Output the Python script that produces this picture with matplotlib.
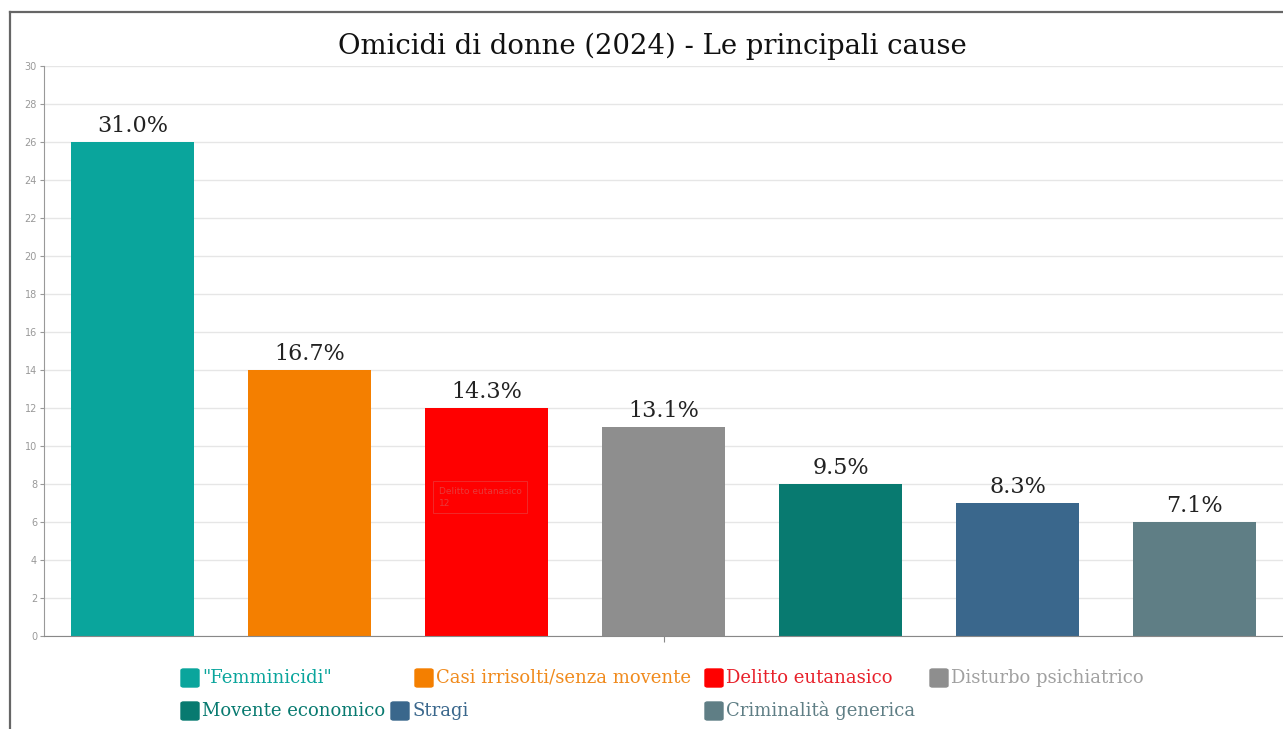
import matplotlib
matplotlib.use('Agg')
from matplotlib import pyplot as plt
from matplotlib.patches import Rectangle, FancyBboxPatch
from matplotlib.lines import Line2D

categories = ['"Femminicidi"', 'Casi irrisolti/senza movente', 'Delitto eutanasico',
              'Disturbo psichiatrico', 'Movente economico', 'Stragi', 'Criminalità generica']
values = [26, 14, 12, 11, 8, 7, 6]
labels = ['31.0%', '16.7%', '14.3%', '13.1%', '9.5%', '8.3%', '7.1%']
colors = ['#0aa59c', '#f47f00', '#ff0000', '#8e8e8e', '#087a70', '#3a678c', '#5f7e85']
text_colors = ['#0aa59c', '#f08a1c', '#e8202a', '#a0a0a0', '#087a70', '#3a678c', '#5f7e85']
yticks = list(range(0, 31, 2))

serif = 'DejaVu Serif'

fig = plt.figure(figsize=(12.83, 7.29), dpi=100)
W, H = 1283, 729

def fx(px):
    return px / W

def fy(py):
    return 1 - py / H

ax = fig.add_axes([fx(44), fy(636), fx(1283) - fx(44), fy(66) - fy(636)])
x = list(range(len(values)))
ax.bar(x, values, width=0.7, color=colors, zorder=2)
ax.set_xlim(-0.5, 6.5)
ax.set_ylim(0, 30)
ax.set_yticks(yticks)
ax.set_yticklabels([str(t) for t in yticks], fontsize=7, color='#999999')
ax.tick_params(axis='y', length=3, color='#999999', pad=2)
ax.set_xticks([3])
ax.set_xticklabels([''])
ax.tick_params(axis='x', length=4, color='#888888')
ax.grid(axis='y', color='#e6e6e6', linewidth=1, zorder=0)
for s in ['top', 'right']:
    ax.spines[s].set_visible(False)
ax.spines['left'].set_color('#999999')
ax.spines['bottom'].set_color('#888888')

for xi, v, lab in zip(x, values, labels):
    ax.text(xi, v + 0.25, lab, ha='center', va='bottom', fontsize=16,
            family=serif, color='#222222')

# faint tooltip left over in the screenshot
ax.text(2 - 0.27, 7.3, 'Delitto eutanasico\n12', fontsize=6.5, color='#e83a3a',
        va='center', ha='left', linespacing=1.4,
        bbox=dict(boxstyle='square,pad=0.6', fc='none', ec='#ee3030', lw=0.6))

fig.text(fx(652), fy(46), 'Omicidi di donne (2024) - Le principali cause',
         ha='center', va='center', fontsize=19.8, family=serif, color='#111111')

# frame around the chart
fig.add_artist(Line2D([fx(10), 1], [fy(12), fy(12)], color='#666666', lw=1.6))
fig.add_artist(Line2D([fx(10), fx(10)], [fy(12), 0], color='#666666', lw=1.6))

# legend, laid out like the original
legend_pos = [(181, 678), (415, 678), (705, 678), (930, 678),
              (181, 711), (391, 711), (705, 711)]
sq = 18
for (px, py), name, c, tc in zip(legend_pos, categories, colors, text_colors):
    fig.add_artist(FancyBboxPatch((fx(px), fy(py + sq / 2)), sq / W, sq / H,
                                  boxstyle='round,pad=0,rounding_size=0.002',
                                  transform=fig.transFigure, color=c))
    fig.text(fx(px + sq + 3), fy(py), name, ha='left', va='center',
             fontsize=13, family=serif, color=tc)

plt.savefig('out.png', dpi=100)
